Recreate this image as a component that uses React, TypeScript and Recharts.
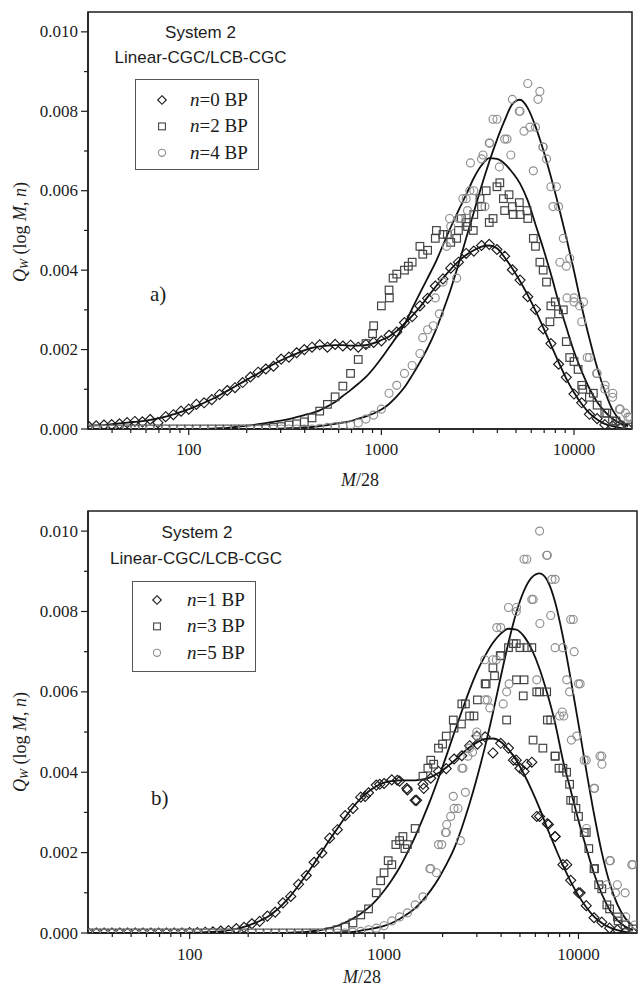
import React from 'react';
import { ComposedChart, XAxis, YAxis, Scatter, Line, ReferenceArea, Legend } from 'recharts';

const SERIF = "'Liberation Serif', 'Times New Roman', Times, serif";
const SANS = "'Liberation Sans', Arial, Helvetica, sans-serif";
const INK = '#1c1c1c';

// M/28 sampling grid (log-spaced)
const mGrid = [
  30.2, 33.1, 36.3, 39.8, 43.7, 47.9, 52.5, 57.5, 63.1, 69.2,
  75.9, 83.2, 91.2, 100, 109.6, 120.2, 131.8, 144.5, 158.5, 173.8,
  190.5, 208.9, 229.1, 251.2, 275.4, 302, 331.1, 363.1, 398.1, 436.5,
  478.6, 524.8, 575.4, 631, 691.8, 758.6, 831.8, 912, 1000, 1096,
  1202, 1318, 1445, 1585, 1738, 1905, 2089, 2291, 2512, 2754,
  3020, 3311, 3631, 3981, 4365, 4786, 5248, 5754, 6310, 6918,
  7586, 8318, 9120, 10000, 10965, 12023, 13183, 14454, 15849, 17378,
  19055,
];

// ---------- Panel a ----------
const fitA0 = [
  0.00008, 0.00009, 0.0001, 0.00012, 0.00014, 0.00016, 0.00018, 0.0002, 0.00023, 0.00027,
  0.00031, 0.00037, 0.00043, 0.0005, 0.00058, 0.00066, 0.00075, 0.00085, 0.00096, 0.00107,
  0.00118, 0.00129, 0.0014, 0.00152, 0.00163, 0.00173, 0.00182, 0.0019, 0.00198, 0.00204,
  0.00208, 0.0021, 0.00211, 0.00211, 0.0021, 0.0021, 0.00211, 0.00216, 0.00224, 0.00233,
  0.00247, 0.00265, 0.00285, 0.00307, 0.00332, 0.00357, 0.0038, 0.00402, 0.00422, 0.00438,
  0.0045, 0.00459, 0.00462, 0.00455, 0.00432, 0.00404, 0.00372, 0.00337, 0.00298, 0.00256,
  0.00212, 0.00168, 0.00127, 0.00092, 0.00063, 0.0004, 0.00024, 0.00013, 0.00007, 0.00003,
  0.00001,
];
const fitA2 = [
  0, 0, 0, 0, 0, 0, 0, 0, 0, 0,
  0, 0, 0, 0, 0, 0, 0.00001, 0.00002, 0.00003, 0.00005,
  0.00007, 0.00009, 0.00012, 0.00015, 0.00018, 0.00021, 0.00025, 0.0003, 0.00035, 0.0004,
  0.00047, 0.00057, 0.00068, 0.00083, 0.00098, 0.00114, 0.00131, 0.00153, 0.00178, 0.00205,
  0.00233, 0.00263, 0.00303, 0.00342, 0.0038, 0.00418, 0.00463, 0.00508, 0.0055, 0.0059,
  0.00632, 0.00664, 0.00682, 0.0068, 0.00668, 0.00646, 0.00618, 0.00575, 0.00515, 0.00455,
  0.0039, 0.0032, 0.00256, 0.00195, 0.00145, 0.00102, 0.00068, 0.00044, 0.00026, 0.00014,
  0.00007,
];
const fitA4 = [
  0, 0, 0, 0, 0, 0, 0, 0, 0, 0,
  0, 0, 0, 0, 0, 0, 0, 0, 0, 0,
  0, 0, 0, 0, 0, 0.00001, 0.00002, 0.00003, 0.00004, 0.00005,
  0.00007, 0.0001, 0.00013, 0.00016, 0.0002, 0.00026, 0.00032, 0.00039, 0.00049, 0.00063,
  0.00082, 0.00105, 0.00135, 0.00168, 0.00204, 0.00246, 0.00297, 0.00352, 0.00414, 0.0048,
  0.00546, 0.00612, 0.00673, 0.00728, 0.00777, 0.00818, 0.00829, 0.00808, 0.00762, 0.00703,
  0.00635, 0.00561, 0.00482, 0.00398, 0.00308, 0.00228, 0.00155, 0.00095, 0.00048, 0.00022,
  0.00008,
];
const ptsA0 = [
  0.00007, 0.00008, 0.0001, 0.00011, 0.00013, 0.00016, 0.00019, 0.00018, 0.00024, 0.00016,
  0.00031, 0.00036, 0.00045, 0.0005, 0.00062, 0.00066, 0.00074, 0.00087, 0.00097, 0.00104,
  0.00117, 0.00131, 0.00143, 0.00151, 0.00158, 0.00176, 0.00181, 0.00192, 0.002, 0.00206,
  0.00212, 0.00206, 0.00213, 0.00209, 0.00211, 0.00206, 0.00213, 0.00218, 0.00222, 0.00236,
  0.00244, 0.00268, 0.00283, 0.0031, 0.00329, 0.0036, 0.00378, 0.00405, 0.0042, 0.00442,
  0.00448, 0.00462, 0.00465, 0.00452, 0.00435, 0.00401, 0.00375, 0.00333, 0.00301, 0.00252,
  0.00215, 0.00163, 0.0013, 0.00088, 0.00066, 0.00037, 0.00026, 0.00011, 0.00008, 0.00002,
  0.00001,
];
const ptsA2 = [
  0, 0, 0, 0, 0, 0, 0, 0, 0, 0,
  0, 0, 0, 0, 0, 0, 0, 0, 0, 0,
  0, 0, 0, 0.00002, 0.00004, 0.00006, 0.0001, 0.00013, 0.00018, 0.00028,
  0.00045, 0.00062, 0.00081, 0.00108, 0.0014, 0.00175, 0.00215, 0.0026, 0.0031, 0.0035,
  0.0039, 0.004, 0.0042, 0.0046, 0.0045, 0.0048, 0.0049, 0.0047, 0.005, 0.0052,
  0.0054, 0.0056, 0.0052, 0.0061, 0.0055, 0.0056, 0.0054, 0.0053, 0.0046, 0.004,
  0.0031, 0.0029, 0.0022, 0.0017, 0.0011, 0.0008, 0.0006, 0.0004, 0.0002, 0.0001,
  0.00005,
];
const ptsA4 = [
  0, 0, 0, 0, 0, 0, 0, 0, 0, 0,
  0, 0, 0, 0, 0, 0, 0, 0, 0, 0,
  0, 0, 0, 0, 0, 0, 0, 0, 0, 0,
  0.00002, 0.00004, 0.00006, 0.00008, 0.0001, 0.00015, 0.00025, 0.00035, 0.0005, 0.0009,
  0.0011, 0.0014, 0.0016, 0.0019, 0.0025, 0.0033, 0.0037, 0.0051, 0.0053, 0.0058,
  0.006, 0.0068, 0.0072, 0.0078, 0.0073, 0.0083, 0.008, 0.0087, 0.0076, 0.0071,
  0.0061, 0.0056, 0.0041, 0.0032, 0.0027, 0.0018, 0.0014, 0.001, 0.0008, 0.0005,
  0.0003,
];
const extraA2 = [
  [900, 0.0024], [1100, 0.0033], [1150, 0.0038], [1380, 0.0041], [1640, 0.0044], [1930, 0.005],
  [2200, 0.0049], [2460, 0.0048], [2600, 0.0053], [2800, 0.0051], [3000, 0.005], [3250, 0.0058],
  [3500, 0.006], [3800, 0.0053], [4120, 0.0062], [4300, 0.0058], [4600, 0.0059], [4830, 0.0054],
  [5200, 0.0057], [5700, 0.0055], [6150, 0.0048], [6650, 0.0042], [7200, 0.0037], [7500, 0.0027],
  [8000, 0.0032], [8800, 0.003], [9500, 0.0018], [10500, 0.0015], [11100, 0.001], [12600, 0.0009],
  [14800, 0.0004], [16500, 0.0002],
];
const extraA4 = [
  [1640, 0.0023], [1860, 0.0026], [2000, 0.0029], [2180, 0.0046], [2260, 0.0053], [2460, 0.0038],
  [2560, 0.0053], [2650, 0.0058], [2800, 0.0055], [2880, 0.006], [2900, 0.0067], [3370, 0.0069],
  [3450, 0.0056], [3650, 0.0072], [3800, 0.0078], [4100, 0.0066], [4490, 0.0073], [4700, 0.0069],
  [5200, 0.008], [5500, 0.0075], [5900, 0.0076], [6150, 0.0065], [6500, 0.0083], [6650, 0.0085],
  [6900, 0.0071], [7200, 0.0068], [7780, 0.0056], [8100, 0.0061], [8450, 0.0042], [8800, 0.0048],
  [9200, 0.0033], [9500, 0.0043], [10000, 0.0033], [10700, 0.0031], [11200, 0.0032], [11700, 0.0018],
  [13100, 0.0014], [14500, 0.0011], [15900, 0.0009], [17200, 0.0005], [18500, 0.0004], [19500, 0.0003],
];

// ---------- Panel b ----------
const fitB1 = [
  0, 0, 0, 0, 0, 0, 0, 0, 0, 0,
  0, 0, 0, 0.00001, 0.00001, 0.00002, 0.00003, 0.00004, 0.00007, 0.0001,
  0.00015, 0.00022, 0.0003, 0.0004, 0.00054, 0.00072, 0.00093, 0.00118, 0.00145, 0.00173,
  0.00202, 0.00232, 0.0026, 0.00288, 0.00313, 0.00335, 0.00352, 0.00365, 0.00374, 0.00378,
  0.0038, 0.0038, 0.0038, 0.00382, 0.00388, 0.00398, 0.00412, 0.00428, 0.00446, 0.00462,
  0.00475, 0.00483, 0.00484, 0.00476, 0.00457, 0.0043, 0.00395, 0.00355, 0.0031, 0.0026,
  0.00213, 0.00168, 0.00128, 0.00093, 0.00064, 0.00041, 0.00025, 0.00014, 0.00007, 0.00003,
  0.00001,
];
const fitB3 = [
  0, 0, 0, 0, 0, 0, 0, 0, 0, 0,
  0, 0, 0, 0, 0, 0, 0, 0, 0, 0,
  0, 0, 0, 0, 0, 0, 0.00001, 0.00002, 0.00003, 0.00005,
  0.00008, 0.00012, 0.00018, 0.00026, 0.00036, 0.00048, 0.00063, 0.00082, 0.00105, 0.00132,
  0.00163, 0.002, 0.0024, 0.00285, 0.00333, 0.00385, 0.0044, 0.00497, 0.00552, 0.00605,
  0.00652, 0.0069, 0.00722, 0.00745, 0.00757, 0.00755, 0.00738, 0.00705, 0.00657, 0.00595,
  0.00522, 0.0043, 0.00355, 0.0028, 0.00212, 0.00148, 0.00097, 0.00058, 0.00032, 0.00016,
  0.00007,
];
const fitB5 = [
  0, 0, 0, 0, 0, 0, 0, 0, 0, 0,
  0, 0, 0, 0, 0, 0, 0, 0, 0, 0,
  0, 0, 0, 0, 0, 0, 0, 0, 0, 0,
  0, 0, 0.00001, 0.00002, 0.00003, 0.00006, 0.00009, 0.00013, 0.00018, 0.00025,
  0.00035, 0.00047, 0.00062, 0.00082, 0.00106, 0.00135, 0.0017, 0.0021, 0.00262, 0.00322,
  0.0039, 0.00465, 0.00548, 0.00637, 0.00723, 0.00797, 0.00852, 0.00885, 0.00895, 0.00877,
  0.00823, 0.00737, 0.00632, 0.0052, 0.00405, 0.00296, 0.002, 0.00125, 0.00071, 0.00037,
  0.00017,
];
const ptsB1 = [
  0, 0, 0, 0, 0, 0, 0, 0, 0, 0,
  0, 0, 0, 0.00001, 0.00001, 0.00002, 0.00003, 0.00005, 0.00006, 0.00011,
  0.00014, 0.00023, 0.00029, 0.00042, 0.00052, 0.00075, 0.00091, 0.00121, 0.00143, 0.00176,
  0.00199, 0.00236, 0.00257, 0.00292, 0.0031, 0.00338, 0.00349, 0.00368, 0.00372, 0.00381,
  0.00378, 0.00356, 0.0033, 0.0037, 0.00385, 0.00402, 0.00409, 0.00433, 0.00441, 0.00466,
  0.0047, 0.00488, 0.00448, 0.00472, 0.0046, 0.0043, 0.00402, 0.00425, 0.0029, 0.00272,
  0.0024, 0.0017, 0.00131, 0.001, 0.00068, 0.00038, 0.00027, 0.00012, 0.00008, 0.00002,
  0.00001,
];
const ptsB3 = [
  0, 0, 0, 0, 0, 0, 0, 0, 0, 0,
  0, 0, 0, 0, 0, 0, 0, 0, 0, 0,
  0, 0, 0, 0, 0, 0, 0, 0, 0, 0,
  0, 0.00003, 0.00008, 0.00015, 0.00025, 0.00045, 0.0006, 0.001, 0.0015, 0.0017,
  0.0023, 0.0022, 0.0026, 0.0039, 0.0043, 0.0046, 0.0049, 0.0051, 0.0057, 0.0054,
  0.0058, 0.0062, 0.0066, 0.0069, 0.0071, 0.0072, 0.0063, 0.0071, 0.006, 0.0053,
  0.0044, 0.0041, 0.0033, 0.0029, 0.0025, 0.0016, 0.0011, 0.0006, 0.0004, 0.0002,
  0.0001,
];
const ptsB5 = [
  0, 0, 0, 0, 0, 0, 0, 0, 0, 0,
  0, 0, 0, 0, 0, 0, 0, 0, 0, 0,
  0, 0, 0, 0, 0, 0, 0, 0, 0, 0,
  0, 0, 0, 0, 0.00002, 0.00004, 0.00008, 0.00012, 0.00018, 0.0003,
  0.0004, 0.0005, 0.0007, 0.0009, 0.0016, 0.0022, 0.0025, 0.0031, 0.0041, 0.0046,
  0.0049, 0.0058, 0.0068, 0.0076, 0.0081, 0.008, 0.0093, 0.0083, 0.01, 0.0094,
  0.0088, 0.0071, 0.0078, 0.0062, 0.0043, 0.0036, 0.0044, 0.0018, 0.0012, 0.001,
  0.0017,
];
const extraB1 = [
  [800, 0.0034], [950, 0.0037], [1170, 0.0038], [1310, 0.0036], [1470, 0.0033], [1600, 0.0036],
  [3000, 0.0049], [4630, 0.0043], [5000, 0.0041], [5420, 0.0042], [6100, 0.0029], [7000, 0.0027],
  [7580, 0.0024], [8700, 0.0017], [10200, 0.001],
];
const extraB3 = [
  [960, 0.0013], [1050, 0.0018], [1150, 0.0022], [1250, 0.0024], [1280, 0.0021], [1680, 0.0041],
  [1800, 0.0042], [2000, 0.0047], [2270, 0.0053], [2500, 0.0052], [2620, 0.0057], [2900, 0.0054],
  [3350, 0.0062], [3700, 0.0064], [3960, 0.0069], [4270, 0.0053], [4630, 0.0072], [4800, 0.0063],
  [5000, 0.0071], [5200, 0.0059], [5430, 0.0071], [5840, 0.0048], [6100, 0.006], [6560, 0.0046],
  [6860, 0.006], [7200, 0.0053], [7580, 0.0044], [7940, 0.0041], [8690, 0.004], [9000, 0.0037],
  [9400, 0.0033], [9700, 0.0031], [10700, 0.0025], [11300, 0.0021], [12100, 0.0016], [12700, 0.0012],
  [14000, 0.0007], [16000, 0.0003],
];
const extraB5 = [
  [1720, 0.0016], [1860, 0.0015], [1980, 0.0022], [2070, 0.0025], [2100, 0.0027], [2200, 0.0029],
  [2270, 0.0034], [2400, 0.0031], [2470, 0.0023], [2550, 0.0041], [2620, 0.0035], [2700, 0.0044],
  [2850, 0.0045], [3000, 0.005], [3300, 0.0068], [3400, 0.0058], [3500, 0.0056], [3780, 0.0068],
  [3800, 0.0076], [4100, 0.0057], [4270, 0.006], [4400, 0.0062], [4800, 0.0081], [5420, 0.0093],
  [5850, 0.0083], [6100, 0.0063], [6330, 0.0077], [6860, 0.0094], [7200, 0.0079], [7300, 0.0088],
  [7580, 0.0071], [8000, 0.0054], [8250, 0.0055], [8400, 0.0054], [8700, 0.0063], [9000, 0.006],
  [9200, 0.0048], [9400, 0.0078], [9500, 0.007], [9800, 0.0049], [10200, 0.0062], [10700, 0.0043],
  [11000, 0.0026], [12100, 0.0036], [12900, 0.0044], [13200, 0.0042], [14000, 0.0012], [14600, 0.0018],
  [15500, 0.001], [17500, 0.0004], [18800, 0.0017], [19500, 0.0002],
];

// ---------- axes / labels ----------
const X_MAJOR = [100, 1000, 10000];
const X_MINOR = [40, 50, 60, 70, 80, 90, 200, 300, 400, 500, 600, 700, 800, 900,
  2000, 3000, 4000, 5000, 6000, 7000, 8000, 9000];
const Y_MAJOR = [0, 0.002, 0.004, 0.006, 0.008, 0.01];
const Y_MINOR = [0.001, 0.003, 0.005, 0.007, 0.009];
const legendA = ['0', '2', '4'];
const legendB = ['1', '3', '5'];

type Pt = { x: number; y: number };
const toPts = (q: number[]): Pt[] => mGrid.map((m, i) => ({ x: m, y: q[i] }));
const pairPts = (p: number[][]): Pt[] => p.map(([x, y]) => ({ x, y }));

const DIAMOND_STROKE = '#1a1a1a';
const SQUARE_STROKE = '#444444';
const CIRCLE_STROKE = '#8e8e8e';

const diamondPath = (cx: number, cy: number, r: number) =>
  `${cx},${cy - r} ${cx + r},${cy} ${cx},${cy + r} ${cx - r},${cy}`;

const DiamondShape = (p: any) => {
  const { cx, cy } = p;
  if (cx == null || cy == null) return <g />;
  return <polygon points={diamondPath(cx, cy, 5)} fill="none" stroke={DIAMOND_STROKE} strokeWidth={1.15} />;
};
const SquareShape = (p: any) => {
  const { cx, cy } = p;
  if (cx == null || cy == null) return <g />;
  return <rect x={cx - 3.8} y={cy - 3.8} width={7.6} height={7.6} fill="none" stroke={SQUARE_STROKE} strokeWidth={1.2} />;
};
const CircleShape = (p: any) => {
  const { cx, cy } = p;
  if (cx == null || cy == null) return <g />;
  return <circle cx={cx} cy={cy} r={4} fill="none" stroke={CIRCLE_STROKE} strokeWidth={1.15} />;
};

const makeXTick = (labelDy: number) => (props: any) => {
  const { x, y, payload } = props;
  const v = payload.value;
  const major = X_MAJOR.indexOf(v) >= 0;
  return (
    <g>
      <line x1={x} y1={y} x2={x} y2={y + (major ? 6 : 4)} stroke={INK} strokeWidth={1.2} />
      {major ? (
        <text x={x} y={y + labelDy} textAnchor="middle" fontFamily={SERIF} fontSize={17} fill={INK}>
          {v}
        </text>
      ) : null}
    </g>
  );
};

const YTick = (props: any) => {
  const { x, y, payload } = props;
  const v = payload.value as number;
  const major = Math.round(v * 1000) % 2 === 0;
  return (
    <g>
      <line x1={x} y1={y} x2={x - (major ? 7 : 4)} y2={y} stroke={INK} strokeWidth={1.2} />
      {major ? (
        <text x={x - 10} y={y + 5.5} textAnchor="end" fontFamily={SERIF} fontSize={17} fill={INK}>
          {v.toFixed(3)}
        </text>
      ) : null}
    </g>
  );
};

const LegendBox = ({ labels, mx, rowTop }: { labels: string[]; mx: number; rowTop: number }) => {
  const shapes = [
    (cx: number, cy: number) => <polygon points={diamondPath(cx, cy, 4.3)} fill="none" stroke={DIAMOND_STROKE} strokeWidth={1.1} />,
    (cx: number, cy: number) => <rect x={cx - 3.4} y={cy - 3.4} width={6.8} height={6.8} fill="none" stroke={SQUARE_STROKE} strokeWidth={1.1} />,
    (cx: number, cy: number) => <circle cx={cx} cy={cy} r={3.6} fill="none" stroke={CIRCLE_STROKE} strokeWidth={1.1} />,
  ];
  return (
    <svg width={124} height={91} style={{ display: 'block' }}>
      <rect x={0.5} y={0.5} width={123} height={90} fill="#fff" stroke="#555" strokeWidth={1} />
      {labels.map((lab, i) => {
        const base = rowTop + i * 26.4;
        return (
          <g key={lab}>
            {shapes[i](mx, base - 6)}
            <text x={55} y={base} fontFamily={SERIF} fontSize={19} fill={INK}>
              <tspan fontStyle="italic">n</tspan>={lab} BP
            </text>
          </g>
        );
      })}
    </svg>
  );
};

type PanelProps = {
  height: number;
  marginTop: number;
  marginRight: number;
  xAxisHeight: number;
  labelDy: number;
  fits: number[][];
  pts: number[][];
  extras: number[][][];
  legendLabels: string[];
  legendLeft: number;
  legendTop: number;
  legendMx: number;
  legendRowTop: number;
};

const Panel = (p: PanelProps) => {
  const XTick = makeXTick(p.labelDy);
  const shapes = [DiamondShape, SquareShape, CircleShape];
  return (
    <ComposedChart
      width={638}
      height={p.height}
      margin={{ top: p.marginTop, right: p.marginRight, bottom: 0, left: 0 }}
    >
      <XAxis
        type="number"
        dataKey="x"
        scale="log"
        domain={[30, 20000]}
        allowDataOverflow
        ticks={[...X_MAJOR, ...X_MINOR]}
        interval={0}
        tickLine={false}
        tickSize={0}
        tickMargin={0}
        tick={<XTick />}
        height={p.xAxisHeight}
        axisLine={{ stroke: INK, strokeWidth: 1.5 }}
      />
      <YAxis
        type="number"
        dataKey="y"
        domain={[0, 0.0105]}
        allowDataOverflow
        ticks={[...Y_MAJOR, ...Y_MINOR]}
        interval={0}
        tickLine={false}
        tickSize={0}
        tickMargin={0}
        tick={<YTick />}
        width={88}
        axisLine={{ stroke: INK, strokeWidth: 1.5 }}
      />
      <ReferenceArea x1={30} x2={20000} y1={0} y2={0.0105} fill="none" stroke={INK} strokeWidth={1.5} />
      {p.pts.map((q, i) => (
        <Scatter
          key={`s${i}`}
          name={`n${i}`}
          data={[...toPts(q), ...pairPts(p.extras[i])]}
          shape={shapes[i]}
          isAnimationActive={false}
        />
      ))}
      {p.fits.map((q, i) => (
        <Line
          key={`f${i}`}
          data={toPts(q)}
          dataKey="y"
          type="monotone"
          stroke="#111"
          strokeWidth={1.8}
          dot={false}
          activeDot={false}
          legendType="none"
          isAnimationActive={false}
        />
      ))}
      <Legend
        layout="vertical"
        align="center"
        verticalAlign="middle"
        wrapperStyle={{ left: p.legendLeft, top: p.legendTop, width: 124, height: 91 }}
        content={() => <LegendBox labels={p.legendLabels} mx={p.legendMx} rowTop={p.legendRowTop} />}
      />
    </ComposedChart>
  );
};

const YLabel = ({ cx, cy }: { cx: number; cy: number }) => (
  <text
    x={cx}
    y={cy}
    transform={`rotate(-90 ${cx} ${cy})`}
    textAnchor="middle"
    dominantBaseline="central"
    fontFamily={SERIF}
    fontSize={18}
    fill={INK}
  >
    <tspan fontStyle="italic">Q</tspan>
    <tspan fontStyle="italic" fontSize={12} dy={4}>W</tspan>
    <tspan dy={-4}> (log </tspan>
    <tspan fontStyle="italic">M</tspan>
    <tspan>, </tspan>
    <tspan fontStyle="italic">n</tspan>
    <tspan>)</tspan>
  </text>
);

export default function App() {
  return (
    <div style={{ position: 'absolute', left: 0, top: 0, width: 638, height: 992, background: '#fff' }}>
      <div style={{ position: 'absolute', left: 0, top: 0 }}>
        <Panel
          height={490}
          marginTop={12}
          marginRight={6}
          xAxisHeight={61}
          labelDy={26}
          fits={[fitA0, fitA2, fitA4]}
          pts={[ptsA0, ptsA2, ptsA4]}
          extras={[[], extraA2, extraA4]}
          legendLabels={legendA}
          legendLeft={135}
          legendTop={79}
          legendMx={27}
          legendRowTop={27}
        />
      </div>
      <div style={{ position: 'absolute', left: 0, top: 490 }}>
        <Panel
          height={502}
          marginTop={21}
          marginRight={1}
          xAxisHeight={59}
          labelDy={27}
          fits={[fitB1, fitB3, fitB5]}
          pts={[ptsB1, ptsB3, ptsB5]}
          extras={[extraB1, extraB3, extraB5]}
          legendLabels={legendB}
          legendLeft={132}
          legendTop={91}
          legendMx={25}
          legendRowTop={25}
        />
      </div>
      <svg
        width={638}
        height={992}
        style={{ position: 'absolute', left: 0, top: 0, pointerEvents: 'none' }}
      >
        <text x={200.5} y={38} textAnchor="middle" fontFamily={SANS} fontSize={17} fill={INK}>System 2</text>
        <text x={200.5} y={63} textAnchor="middle" fontFamily={SANS} fontSize={17} fill={INK}>Linear-CGC/LCB-CGC</text>
        <text x={150} y={301} fontFamily={SERIF} fontSize={21} fill={INK}>a)</text>
        <text x={360} y={486} textAnchor="middle" fontFamily={SERIF} fontSize={18} fill={INK}>
          <tspan fontStyle="italic">M</tspan>/28
        </text>
        <YLabel cx={20} cy={232} />

        <text x={197} y={538} textAnchor="middle" fontFamily={SANS} fontSize={17} fill={INK}>System 2</text>
        <text x={196} y={564} textAnchor="middle" fontFamily={SANS} fontSize={17} fill={INK}>Linear-CGC/LCB-CGC</text>
        <text x={151} y={805} fontFamily={SERIF} fontSize={21} fill={INK}>b)</text>
        <text x={362} y={983} textAnchor="middle" fontFamily={SERIF} fontSize={18} fill={INK}>
          <tspan fontStyle="italic">M</tspan>/28
        </text>
        <YLabel cx={20} cy={742} />
      </svg>
    </div>
  );
}
